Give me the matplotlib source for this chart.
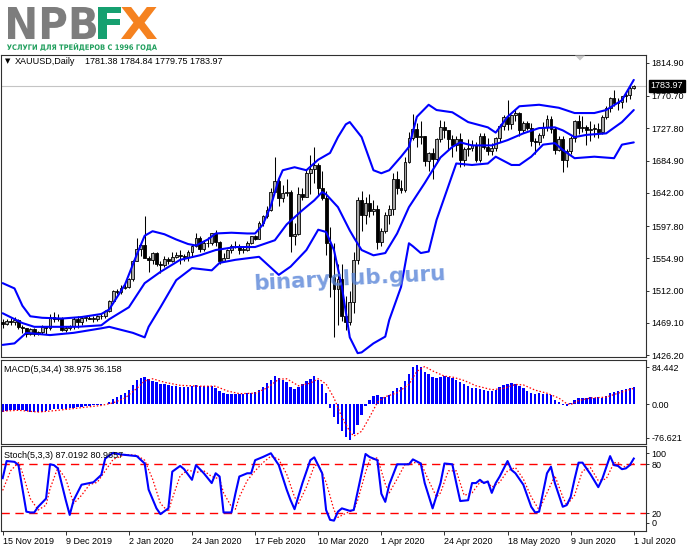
import numpy as np
import matplotlib
matplotlib.use('Agg')
import matplotlib.pyplot as plt
from matplotlib.patches import PathPatch, Polygon
from matplotlib.textpath import TextPath
from matplotlib.font_manager import FontProperties
from matplotlib.transforms import Affine2D, blended_transform_factory

# ---------------- data ----------------
open_ = [1471,1468,1472,1471,1473,1464,1462,1455,1461,1454,1457,1464,1462,1477,1474,1476,1460,1463,1465,1475,
         1470,1476,1476,1475,1475,1479,1478,1485,1498,1511,1510,1515,1517,1528,1552,1567,1573,1556,1553,1562,
         1548,1546,1554,1552,1557,1560,1558,1557,1564,1571,1582,1567,1576,1575,1589,1577,1552,1556,1566,1571,
         1572,1566,1566,1576,1584,1581,1602,1611,1619,1643,1658,1635,1642,1643,1585,1587,1641,1637,1669,1673,
         1679,1649,1635,1576,1530,1514,1527,1478,1470,1497,1553,1632,1612,1629,1618,1621,1577,1591,1613,1620,
         1660,1649,1646,1683,1715,1727,1716,1717,1684,1695,1687,1713,1730,1726,1713,1706,1713,1686,1700,1702,
         1705,1685,1718,1703,1697,1702,1715,1731,1743,1734,1745,1748,1725,1735,1728,1711,1709,1719,1730,1740,
         1727,1699,1714,1685,1698,1715,1737,1728,1730,1725,1727,1727,1723,1743,1755,1768,1761,1763,1771,1772,
         1781.38]
high_ = [1474,1475,1476,1477,1474,1466,1463,1463,1462,1459,1466,1465,1481,1484,1481,1477,1465,1467,1477,1479,
         1479,1479,1479,1478,1480,1481,1486,1500,1513,1514,1520,1524,1529,1553,1582,1575,1611,1558,1563,1563,
         1551,1558,1557,1563,1563,1566,1561,1566,1574,1588,1584,1579,1583,1589,1592,1578,1562,1568,1574,1578,
         1574,1570,1578,1585,1586,1604,1612,1624,1649,1689,1660,1652,1661,1646,1602,1650,1649,1674,1692,1703,
         1681,1671,1645,1596,1575,1547,1548,1505,1512,1563,1637,1645,1636,1640,1633,1626,1595,1617,1626,1669,
         1671,1659,1690,1723,1747,1735,1738,1718,1696,1701,1715,1739,1737,1726,1719,1718,1722,1703,1714,1712,
         1710,1722,1722,1715,1708,1716,1734,1745,1765,1745,1754,1749,1737,1737,1735,1715,1722,1736,1745,1744,
         1729,1718,1717,1700,1718,1739,1745,1744,1732,1737,1733,1735,1745,1757,1769,1779,1768,1771,1774,1785,
         1784.84]
low_ = [1462,1467,1467,1466,1461,1456,1451,1453,1452,1453,1455,1454,1460,1470,1472,1458,1457,1460,1461,1462,
        1466,1472,1474,1471,1472,1475,1476,1484,1497,1508,1508,1514,1516,1525,1552,1558,1555,1537,1548,1545,
        1536,1544,1548,1550,1556,1547,1551,1551,1558,1570,1563,1565,1570,1573,1572,1548,1551,1555,1562,1569,
        1561,1562,1565,1574,1579,1580,1598,1608,1618,1643,1624,1630,1638,1563,1573,1586,1633,1636,1641,1655,
        1638,1633,1560,1504,1451,1466,1472,1460,1466,1482,1547,1591,1600,1610,1613,1568,1572,1588,1601,1613,
        1641,1642,1643,1681,1712,1703,1707,1677,1671,1660,1681,1709,1715,1699,1690,1698,1676,1678,1691,1697,
        1683,1683,1700,1692,1692,1697,1709,1725,1726,1727,1737,1718,1722,1725,1704,1693,1706,1715,1724,1721,
        1694,1697,1670,1676,1693,1709,1720,1723,1705,1711,1716,1715,1720,1740,1750,1757,1752,1755,1762,1767,
        1779.75]
close_ = [1468,1472,1471,1473,1464,1462,1455,1461,1454,1457,1464,1462,1477,1474,1476,1460,1463,1465,1475,1470,
          1476,1476,1475,1475,1479,1478,1485,1498,1511,1510,1515,1517,1528,1552,1567,1573,1556,1553,1562,1548,
          1546,1554,1552,1557,1560,1558,1557,1564,1571,1582,1567,1576,1575,1589,1577,1552,1556,1566,1571,1572,
          1566,1566,1576,1584,1581,1602,1611,1619,1643,1658,1635,1642,1643,1585,1587,1641,1637,1669,1673,1679,
          1649,1635,1576,1530,1514,1527,1478,1470,1497,1553,1632,1612,1629,1618,1621,1577,1591,1613,1620,1660,
          1649,1646,1683,1715,1727,1716,1717,1684,1695,1687,1713,1730,1726,1713,1706,1713,1686,1700,1702,1705,
          1685,1718,1703,1697,1702,1715,1731,1743,1734,1745,1748,1725,1735,1728,1711,1709,1719,1730,1740,1727,
          1699,1714,1685,1698,1715,1737,1728,1730,1725,1727,1727,1723,1743,1755,1768,1761,1763,1771,1772,1781,
          1783.97]

# Bollinger bands (bar index, price)
bb_upper = [(0,1522),(3,1515),(5,1492),(7,1478),(10,1476),(15,1475),(20,1477),(25,1481),(27,1487),(31,1520),
            (34,1560),(36,1585),(38,1591),(41,1587),(44,1580),(47,1574),(49,1572),(52,1580),(54,1588),(58,1589),
            (62,1588),(64,1588),(66,1600),(68,1625),(70,1660),(71,1672),(74,1676),(77,1672),(80,1686),(83,1695),
            (85,1716),(87,1733),(88,1736),(91,1716),(94,1672),(96,1668),(98,1672),(101,1690),(103,1703),(105,1743),
            (108,1759),(110,1752),(114,1749),(118,1736),(123,1729),(125,1722),(128,1743),(131,1757),(136,1759),
            (141,1755),(145,1748),(150,1748),(153,1752),(157,1765),(160,1792)]
bb_middle = [(0,1482),(5,1469),(8,1464),(19,1464),(25,1466),(27,1474),(32,1490),(36,1522),(40,1537),(45,1553),
             (50,1559),(54,1566),(59,1570),(64,1570),(69,1579),(72,1600),(76,1619),(79,1632),(81,1643),(82,1640),
             (85,1623),(88,1592),(89,1583),(91,1566),(94,1559),(97,1562),(100,1588),(103,1623),(107,1655),
             (111,1689),(114,1703),(116,1709),(119,1705),(124,1705),(128,1712),(132,1721),(136,1728),(140,1729),
             (142,1725),(145,1716),(148,1719),(153,1721),(157,1736),(160,1752)]
bb_lower = [(0,1440),(3,1442),(6,1456),(12,1453),(18,1456),(25,1462),(27,1464),(30,1460),(33,1456),(36,1450),
            (37,1464),(40,1490),(44,1526),(48,1542),(53,1539),(55,1549),(59,1553),(65,1557),(70,1533),(73,1544),
            (77,1566),(80,1593),(82,1590),(84,1566),(86,1517),(88,1450),(90,1429),(91,1430),(94,1442),(97,1451),
            (98,1473),(101,1517),(103,1575),(104,1571),(106,1562),(108,1564),(110,1606),(112,1636),(115,1681),
            (119,1679),(123,1681),(125,1690),(129,1679),(131,1679),(134,1690),(137,1706),(140,1708),(142,1699),
            (145,1688),(150,1690),(155,1688),(157,1706),(160,1709)]

macd_hist = [-18,-16,-14,-13,-13,-14,-16,-18,-19,-19,-18,-16,
             -14,-12,-10,-11,-11,-9,-8,-7,-6,-5,-4,
             -3,-2,-1,1,
             5,11,16,21,26,33,44,
             55,60,62,
             57,54,50,47,45,43,42,41,40,40,40,41,43,41,42,41,42,38,
             30,26,24,23,23,24,24,25,26,28,
             33,40,48,56,64,
             60,55,50,40,35,40,45,52,58,64,55,45,26,
             -8,-30,-45,-62,-75,-82,-68,-48,-24,-4,
             10,18,22,16,17,22,30,36,40,52,
             70,86,90,84,74,68,62,60,62,64,
             63,60,56,50,45,42,38,36,34,32,
             31,30,33,39,44,46,48,46,42,38,
             30,26,24,25,24,24,20,10,6,-2,
             -5,3,10,14,15,15,16,15,16,15,
             19,25,28,30,32,34,36,38.975]
macd_signal = [(0,-16),(4,-14),(9,-18),(13,-15),(20,-8),(25,-3),(28,3),(31,14),(34,36),(36,53),(38,58),(41,50),
               (45,43),(50,41),(54,41),(57,30),(60,24),(64,25),(67,37),(70,57),(72,58),(75,42),(78,48),(80,58),
               (82,46),(84,14),(86,-30),(88,-62),(89,-73),(91,-62),(93,-30),(95,4),(97,17),(100,26),(103,45),
               (105,75),(107,86),(109,76),(112,64),(114,62),(117,54),(120,42),(124,33),(127,36),(130,45),(132,44),
               (135,32),(138,25),(141,14),(143,1),(144,-1),(146,8),(149,14),(153,16),(156,25),(160,36.158)]

stoch_k = [(0,63),(1,84),(3,83),(4,79),(6,22),(7,21),(8,21),(9,28),(11,38),(12,80),(13,79),(14,75),(16,36),(17,18),
           (18,36),(20,55),(22,57),(23,58),(25,67),(26,87),(28,94),(30,92),(34,90),(36,81),(37,49),(39,26),(40,19),
           (42,26),(43,71),(45,78),(46,74),(48,61),(49,79),(51,69),(53,57),(54,69),(55,65),(56,21),(58,21),(59,44),
           (60,65),(62,69),(63,69),(64,85),(66,89),(68,93.5),(70,79),(72,49),(73,36),(74,25),(76,57),(78,85),
           (79,88.5),(81,69),(82,24),(83,12),(84,11),(85,22),(86,26),(88,23),(89,24),(91,69),(92,92.6),(93,89),
           (95,85),(96,44),(97,34),(98,55),(100,80),(101,80),(103,80),(104,86),(106,81),(107,57),(109,26),(111,57),
           (112,81),(114,80),(115,57),(116,35),(118,36),(119,57),(120,57),(121,61),(122,57),(123,59),(124,45),
           (125,57),(126,65),(128,84),(129,73),(130,69),(132,55),(134,28),(135,21),(136,22),(138,69),(139,77),
           (140,57),(142,28),(143,30),(144,40),(145,62),(146,82),(147,82),(149,68),(151,52),(152,62),(153,76),
           (154,90),(155,79),(156,78),(157,74),(158,75),(159,79),(160,87.0192)]
stoch_d = [(0,48),(2,72),(4,82),(5,70),(7,38),(9,24),(11,30),(12,50),(14,76),(16,62),(18,32),(20,42),(22,55),
           (24,58),(26,72),(28,86),(31,92),(34,91),(36,85),(38,62),(40,32),(42,22),(43,38),(45,66),(47,73),(49,70),
           (51,72),(53,65),(55,62),(56,45),(58,28),(59,25),(60,40),(62,60),(64,72),(66,82),(68,90),(70,86),(72,68),
           (74,40),(75,32),(77,52),(79,78),(80,80),(82,58),(84,24),(85,15),(87,20),(89,24),(90,36),(92,70),(93,85),
           (95,88),(97,56),(98,45),(100,62),(102,80),(104,82),(106,82),(108,60),(110,40),(111,45),(113,72),(115,72),
           (117,42),(119,45),(121,58),(123,58),(124,52),(126,58),(128,72),(130,76),(132,62),(134,40),(136,24),
           (138,45),(140,66),(142,40),(143,30),(145,42),(147,72),(149,76),(151,60),(153,62),(155,82),(156,82),
           (158,76),(160,80.9657)]

price_ticks = [1814.90, 1770.70, 1727.80, 1684.90, 1642.00, 1597.80, 1554.90, 1512.00, 1469.10, 1426.20]
last_price = 1783.97
date_labels = ['15 Nov 2019', '9 Dec 2019', '2 Jan 2020', '24 Jan 2020', '17 Feb 2020', '10 Mar 2020',
               '1 Apr 2020', '24 Apr 2020', '18 May 2020', '9 Jun 2020', '1 Jul 2020']
date_label_bars = [0, 16, 32, 48, 64, 80, 96, 112, 128, 144, 160]

# ---------------- figure ----------------
W, H = 691, 549
fig = plt.figure(figsize=(W / 100, H / 100), dpi=100)
fig.patch.set_facecolor('white')
PIX = Affine2D().scale(1.0 / W, 1.0 / H) + fig.transFigure

FONT = 'Liberation Sans'
FS = 6.5
BLUE = '#0000ff'
RED = '#ff0000'
FRAME = '#303030'


def rect(l, t, r, b):
    return [l / W, 1 - b / H, (r - l) / W, (b - t) / H]


def style_axis(ax):
    for s in ax.spines.values():
        s.set_color(FRAME)
        s.set_linewidth(0.8)
    ax.set_facecolor('white')
    ax.yaxis.tick_right()
    ax.tick_params(axis='y', direction='out', length=2.5, width=0.7, color=FRAME, pad=1.5,
                   labelsize=FS, labelcolor='black')
    for lab in ax.get_yticklabels():
        lab.set_family(FONT)
    ax.set_xlim(-0.55, 163.1)


ax1 = fig.add_axes(rect(0.5, 55, 646, 357))
ax2 = fig.add_axes(rect(0.5, 359.5, 646, 444))
ax3 = fig.add_axes(rect(0.5, 446, 646, 531))

o = np.array(open_, float)
h = np.array(high_, float)
l = np.array(low_, float)
c = np.array(close_, float)
xb = np.arange(len(c))

# ---- price panel ----
ax1.axhline(last_price, color='#c4c4c4', lw=0.8, zorder=0.5)
ax1.vlines(xb, l, h, color='black', lw=0.75, zorder=2)
up = c >= o
bot = np.minimum(o, c)
hgt = np.maximum(np.abs(c - o), 0.9)
ax1.bar(xb[up], hgt[up], bottom=bot[up], width=0.72, facecolor='#a6a6a6', edgecolor='black', lw=0.6, zorder=3)
ax1.bar(xb[~up], hgt[~up], bottom=bot[~up], width=0.72, facecolor='black', edgecolor='black', lw=0.6, zorder=3)
for band in (bb_upper, bb_middle, bb_lower):
    bx, by = zip(*band)
    ax1.plot(bx, by, color=BLUE, lw=1.5, zorder=4, solid_capstyle='round', solid_joinstyle='round')
ax1.set_ylim(1423.9, 1825.1)
ax1.set_yticks(price_ticks)
ax1.set_yticklabels(['%.2f' % v for v in price_ticks])
ax1.set_xticks([])
style_axis(ax1)
ax1.annotate('%.2f' % last_price, xy=(1, last_price),
             xycoords=blended_transform_factory(ax1.transAxes, ax1.transData),
             xytext=(3.2, 0), textcoords='offset points', ha='left', va='center', color='white',
             fontsize=FS, family=FONT,
             bbox=dict(boxstyle='square,pad=0.18', fc='black', ec='black'), annotation_clip=False, zorder=10)

# ---- MACD panel ----
ax2.bar(xb, macd_hist, width=0.6, color=BLUE, lw=0, zorder=2)
sx, sy = zip(*macd_signal)
ax2.plot(sx, sy, color=RED, lw=0.9, ls=(0, (1.2, 1.6)), zorder=3)
ax2.set_ylim(-91, 102)
ax2.set_yticks([84.442, 0.0, -76.621])
ax2.set_yticklabels(['84.442', '0.00', '-76.621'])
ax2.set_xticks([])
style_axis(ax2)

# ---- Stochastic panel ----
ax3.axhline(80, color=RED, lw=1.0, ls=(0, (6, 4)), zorder=1)
ax3.axhline(20, color=RED, lw=1.0, ls=(0, (6, 4)), zorder=1)
dx, dy = zip(*stoch_d)
ax3.plot(dx, dy, color=RED, lw=0.9, ls=(0, (1.2, 1.6)), zorder=2)
kx, ky = zip(*stoch_k)
ax3.plot(kx, ky, color=BLUE, lw=1.5, zorder=3, solid_joinstyle='round')
ax3.set_ylim(-1.7, 102.4)
ax3.set_yticks([93.8, 80, 20, 8.1])
ax3.set_yticklabels(['100', '80', '20', '0'])
style_axis(ax3)
ax3.set_xticks(date_label_bars)
ax3.set_xticklabels(date_labels)
ax3.tick_params(axis='x', direction='out', length=3, width=0.7, color=FRAME, pad=1.5, labelsize=FS)
for lab in ax3.get_xticklabels():
    lab.set_family(FONT)
    lab.set_horizontalalignment('left')

# ---- panel captions ----
fig.text(5 / W, 1 - 61.5 / H, '\u25bc', fontsize=5, color='black', va='center', ha='left', family='DejaVu Sans')
fig.text(15 / W, 1 - 62 / H, 'XAUUSD,Daily', fontsize=FS, family=FONT, color='#000000', va='center')
fig.text(85 / W, 1 - 62 / H, '%.2f %.2f %.2f %.2f' % (open_[-1], high_[-1], low_[-1], close_[-1]),
         fontsize=FS, family=FONT, color='#000000', va='center')
fig.text(4 / W, 1 - 369 / H, 'MACD(5,34,4) %.3f %.3f' % (macd_hist[-1], macd_signal[-1][1]),
         fontsize=FS, family=FONT, color='black', va='center')
fig.text(4 / W, 1 - 455 / H, 'Stoch(5,3,3) %.4f %.4f' % (stoch_k[-1][1], stoch_d[-1][1]),
         fontsize=FS, family=FONT, color='black', va='center')

# chart-shift marker
fig.add_artist(Polygon([(575, H - 55.5), (585, H - 55.5), (580, H - 60.5)], closed=True,
                       facecolor='#c8c8c8', edgecolor='none', transform=PIX))


# ---- logo ----
def fitted_text(s, left, top, right, bottom, color, family, weight='bold'):
    tp = TextPath((0, 0), s, size=100, prop=FontProperties(family=family, weight=weight))
    e = tp.get_extents()
    tr = (Affine2D().translate(-e.x0, -e.y0)
          .scale((right - left) / e.width, (bottom - top) / e.height)
          .translate(left, H - bottom) + PIX)
    fig.add_artist(PathPatch(tp, transform=tr, facecolor=color, edgecolor='none'))


fitted_text('NPB', 8, 7, 96, 39, '#7d7d7d', 'DejaVu Sans')
fitted_text('F', 98, 7, 121, 39, '#16a070', 'DejaVu Sans')
fitted_text('X', 121, 7, 157, 39, '#f58220', 'DejaVu Sans')
fitted_text('УСЛУГИ ДЛЯ ТРЕЙДЕРОВ С 1996 ГОДА', 7, 43, 157, 51, '#1f9e5c', 'DejaVu Sans')

# ---- watermark ----
fig.text(350 / W, 1 - 279 / H, 'binaryclub.guru', fontsize=15.5, fontweight='bold', color='#5a86d8',
         alpha=0.8, rotation=3, ha='center', va='center', family='DejaVu Sans', zorder=20)

fig.savefig('out.png', dpi=100, facecolor='white')
